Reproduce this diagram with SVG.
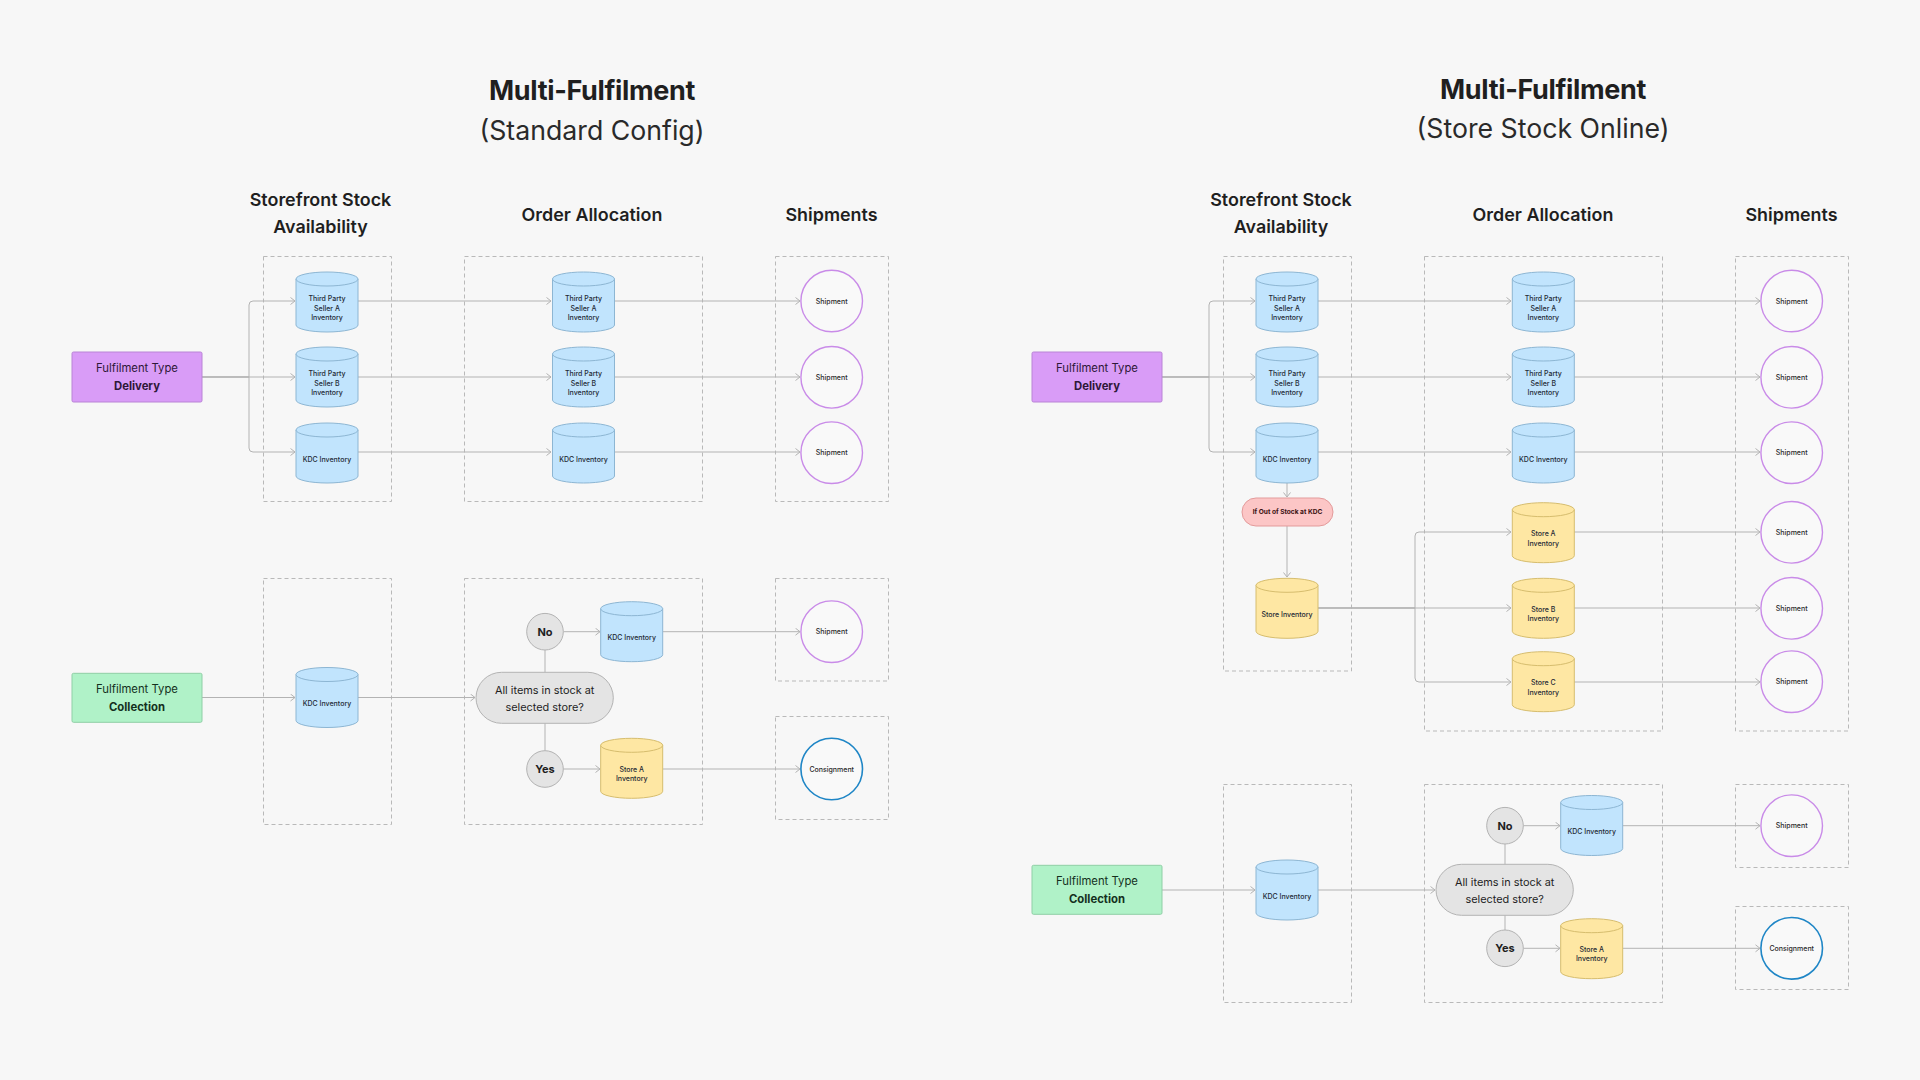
<svg xmlns="http://www.w3.org/2000/svg" xmlns:xlink="http://www.w3.org/1999/xlink" width="1920" height="1080" viewBox="0 0 1920 1080">
<style>
text{font-family:Inter,"Noto Sans","Liberation Sans",sans-serif;text-anchor:middle;fill:#1f1f1f}
.title{font-size:27px;font-weight:700;letter-spacing:-0.35px}
.sub{font-size:26.7px;font-weight:400;fill:#2a2a2a}
.hdr{font-size:17.9px;font-weight:600}
.frame{fill:none;stroke:#b9b9b9;stroke-width:1;stroke-dasharray:4 3}
.cyl-t{font-size:7px;font-weight:500;fill:#1e2a35}
.ship{fill:#f9f9f9;stroke:#c98be8;stroke-width:1.4}
.cons{fill:#f9f9f9;stroke:#1f86c6;stroke-width:1.6}
.circ-t{font-size:7px;font-weight:500;fill:#2a2a2a}
.ft{font-size:11.3px;font-weight:400}
.ftb{font-size:11.3px;font-weight:700}
.dec{fill:#e4e4e4;stroke:#b3b3b3;stroke-width:1}
.dec-t{font-size:10.9px;font-weight:400;fill:#1f1f1f}
.yn{font-size:11px;font-weight:700;fill:#1f1f1f}
.conn path{fill:none;stroke:#b3b3b3;stroke-width:1}
.arr path{marker-end:url(#ah)}
</style>
<defs>
<marker id="ah" markerUnits="userSpaceOnUse" markerWidth="8" markerHeight="10" refX="5" refY="4" orient="auto">
<path d="M0.5,0.5 L5,4 L0.5,7.5" fill="none" stroke="#b3b3b3" stroke-width="1"/>
</marker>
<g id="cylB">
<path d="M0,7 V53 A31,7 0 0 0 62,53 V7 Z" fill="#c1e4fd" stroke="#8db6d3" stroke-width="1"/>
<ellipse cx="31" cy="7" rx="31" ry="7" fill="#c1e4fd" stroke="#8db6d3" stroke-width="1"/>
</g>
<g id="cylY">
<path d="M0,7 V53 A31,7 0 0 0 62,53 V7 Z" fill="#fee7a3" stroke="#d6bd6e" stroke-width="1"/>
<ellipse cx="31" cy="7" rx="31" ry="7" fill="#fee7a3" stroke="#d6bd6e" stroke-width="1"/>
</g>
</defs>
<rect x="0" y="0" width="1920" height="1080" fill="#f7f7f7"/>

<!-- Titles -->
<g id="titles">
<text class="title" x="592" y="100">Multi-Fulfilment</text>
<text class="sub" x="592" y="139.5">(Standard Config)</text>
<text class="title" x="1543" y="98.5">Multi-Fulfilment</text>
<text class="sub" x="1543" y="138">(Store Stock Online)</text>
<text class="hdr" x="320.5" y="206">Storefront Stock</text>
<text class="hdr" x="320.5" y="233">Availability</text>
<text class="hdr" x="592" y="221">Order Allocation</text>
<text class="hdr" x="831.5" y="221">Shipments</text>
<text class="hdr" x="1281" y="206">Storefront Stock</text>
<text class="hdr" x="1281" y="233">Availability</text>
<text class="hdr" x="1543" y="221">Order Allocation</text>
<text class="hdr" x="1791.5" y="221">Shipments</text>
</g>

<!-- Frames -->
<g id="frames">
<rect class="frame" x="263.5" y="256.5" width="128" height="245"/>
<rect class="frame" x="464.5" y="256.5" width="238" height="245"/>
<rect class="frame" x="775.5" y="256.5" width="113" height="245"/>
<rect class="frame" x="263.5" y="578.5" width="128" height="246"/>
<rect class="frame" x="464.5" y="578.5" width="238" height="246"/>
<rect class="frame" x="775.5" y="578.5" width="113" height="102.5"/>
<rect class="frame" x="775.5" y="716.5" width="113" height="103"/>
<rect class="frame" x="1223.5" y="256.5" width="128" height="414.5"/>
<rect class="frame" x="1424.5" y="256.5" width="238" height="474.5"/>
<rect class="frame" x="1735.5" y="256.5" width="113" height="474.5"/>
<rect class="frame" x="1223.5" y="784.5" width="128" height="218"/>
<rect class="frame" x="1424.5" y="784.5" width="238" height="218"/>
<rect class="frame" x="1735.5" y="784.5" width="113" height="83"/>
<rect class="frame" x="1735.5" y="906.5" width="113" height="83"/>
</g>

<!-- Connectors -->
<g id="connectors" class="conn">
<g class="arr">
<path d="M202,377 H249 V305 Q249,301 253,301 H295"/>
<path d="M202,377 H295"/>
<path d="M202,377 H249 V448 Q249,452 253,452 H295"/>
<path d="M358,301 H551"/>
<path d="M358,377 H551"/>
<path d="M358,452 H551"/>
<path d="M614,301 H800"/>
<path d="M614,377 H800"/>
<path d="M614,452 H800"/>
<path d="M202,697.5 H295"/>
<path d="M358,697.5 H475"/>
<path d="M563.5,631.7 H600"/>
<path d="M563.5,769 H600"/>
<path d="M663,631.7 H800"/>
<path d="M663,769 H800"/>

<path d="M1162,377 H1209 V305 Q1209,301 1213,301 H1255"/>
<path d="M1162,377 H1255"/>
<path d="M1162,377 H1209 V448 Q1209,452 1213,452 H1255"/>
<path d="M1318,301 H1511"/>
<path d="M1318,377 H1511"/>
<path d="M1318,452 H1511"/>
<path d="M1574,301 H1760"/>
<path d="M1574,377 H1760"/>
<path d="M1574,452 H1760"/>
<path d="M1287,483 V497"/>
<path d="M1287,526 V577"/>
<path d="M1318,608 H1415 V536 Q1415,532 1419,532 H1511"/>
<path d="M1318,608 H1511"/>
<path d="M1318,608 H1415 V678 Q1415,682 1419,682 H1511"/>
<path d="M1574,532 H1760"/>
<path d="M1574,608 H1760"/>
<path d="M1574,682 H1760"/>
<path d="M1162,890 H1255"/>
<path d="M1318,890 H1435"/>
<path d="M1523.3,825.7 H1560"/>
<path d="M1523.3,948.3 H1560"/>
<path d="M1623,825.7 H1760"/>
<path d="M1623,948.3 H1760"/>
</g>
<path d="M545,672.3 V650"/>
<path d="M545,723.3 V750.7"/>
<path d="M1505,864.3 V844"/>
<path d="M1505,915.3 V930"/>
</g>

<!-- LEFT: Standard Config -->
<g id="L-delivery">
<rect x="72" y="352" width="130" height="50" rx="1.5" fill="#d99cf7" stroke="#b984d6" stroke-width="1"/>
<text class="ft" x="137" y="372.3" style="fill:#2e1738">Fulfilment Type</text>
<text class="ftb" x="137" y="389.7" style="fill:#2e1738">Delivery</text>
</g>
<g id="L-sf-tpa"><use xlink:href="#cylB" x="296" y="272"/>
<text class="cyl-t" x="327" y="301.3">Third Party</text><text class="cyl-t" x="327" y="310.6">Seller A</text><text class="cyl-t" x="327" y="319.9">Inventory</text></g>
<g id="L-sf-tpb"><use xlink:href="#cylB" x="296" y="347"/>
<text class="cyl-t" x="327" y="376.3">Third Party</text><text class="cyl-t" x="327" y="385.6">Seller B</text><text class="cyl-t" x="327" y="394.9">Inventory</text></g>
<g id="L-sf-kdc"><use xlink:href="#cylB" x="296" y="423"/>
<text class="cyl-t" x="327" y="461.5">KDC Inventory</text></g>
<g id="L-oa-tpa"><use xlink:href="#cylB" x="552.5" y="272"/>
<text class="cyl-t" x="583.5" y="301.3">Third Party</text><text class="cyl-t" x="583.5" y="310.6">Seller A</text><text class="cyl-t" x="583.5" y="319.9">Inventory</text></g>
<g id="L-oa-tpb"><use xlink:href="#cylB" x="552.5" y="347"/>
<text class="cyl-t" x="583.5" y="376.3">Third Party</text><text class="cyl-t" x="583.5" y="385.6">Seller B</text><text class="cyl-t" x="583.5" y="394.9">Inventory</text></g>
<g id="L-oa-kdc"><use xlink:href="#cylB" x="552.5" y="423"/>
<text class="cyl-t" x="583.5" y="461.5">KDC Inventory</text></g>
<g id="L-sh-1"><circle class="ship" cx="831.7" cy="301" r="30.8"/><text class="circ-t" x="831.7" y="303.5">Shipment</text></g>
<g id="L-sh-2"><circle class="ship" cx="831.7" cy="377.3" r="30.8"/><text class="circ-t" x="831.7" y="379.8">Shipment</text></g>
<g id="L-sh-3"><circle class="ship" cx="831.7" cy="452.7" r="30.8"/><text class="circ-t" x="831.7" y="455.2">Shipment</text></g>

<g id="L-collection">
<rect x="72" y="673.3" width="130" height="49" rx="1.5" fill="#b0f2c8" stroke="#8fcfa6" stroke-width="1"/>
<text class="ft" x="137" y="693.3" style="fill:#14301d">Fulfilment Type</text>
<text class="ftb" x="137" y="710.7" style="fill:#14301d">Collection</text>
</g>
<g id="L-sf-kdc2"><use xlink:href="#cylB" x="296" y="667.5"/>
<text class="cyl-t" x="327" y="706">KDC Inventory</text></g>
<g id="L-decision"><rect class="dec" x="476" y="672.3" width="137.3" height="51" rx="25.5"/>
<text class="dec-t" x="544.7" y="693.8">All items in stock at</text><text class="dec-t" x="544.7" y="710.5">selected store?</text></g>
<g id="L-no"><circle class="dec" cx="545" cy="631.7" r="18.3"/><text class="yn" x="545" y="635.7">No</text></g>
<g id="L-yes"><circle class="dec" cx="545" cy="769" r="18.3"/><text class="yn" x="545" y="773">Yes</text></g>
<g id="L-oa-kdc2"><use xlink:href="#cylB" x="600.7" y="601.7"/>
<text class="cyl-t" x="631.7" y="640.2">KDC Inventory</text></g>
<g id="L-oa-storea"><use xlink:href="#cylY" x="600.7" y="738.3"/>
<text class="cyl-t" x="631.7" y="771.5">Store A</text><text class="cyl-t" x="631.7" y="780.8">Inventory</text></g>
<g id="L-sh-4"><circle class="ship" cx="831.7" cy="631.7" r="30.8"/><text class="circ-t" x="831.7" y="634.2">Shipment</text></g>
<g id="L-cons"><circle class="cons" cx="831.7" cy="769" r="30.8"/><text class="circ-t" x="831.7" y="771.5">Consignment</text></g>

<!-- RIGHT: Store Stock Online -->
<g id="R-delivery">
<rect x="1032" y="352" width="130" height="50" rx="1.5" fill="#d99cf7" stroke="#b984d6" stroke-width="1"/>
<text class="ft" x="1097" y="372.3" style="fill:#2e1738">Fulfilment Type</text>
<text class="ftb" x="1097" y="389.7" style="fill:#2e1738">Delivery</text>
</g>
<g id="R-sf-tpa"><use xlink:href="#cylB" x="1256" y="272"/>
<text class="cyl-t" x="1287" y="301.3">Third Party</text><text class="cyl-t" x="1287" y="310.6">Seller A</text><text class="cyl-t" x="1287" y="319.9">Inventory</text></g>
<g id="R-sf-tpb"><use xlink:href="#cylB" x="1256" y="347"/>
<text class="cyl-t" x="1287" y="376.3">Third Party</text><text class="cyl-t" x="1287" y="385.6">Seller B</text><text class="cyl-t" x="1287" y="394.9">Inventory</text></g>
<g id="R-sf-kdc"><use xlink:href="#cylB" x="1256" y="423"/>
<text class="cyl-t" x="1287" y="461.5">KDC Inventory</text></g>
<g id="R-oos">
<rect x="1242" y="498" width="91" height="28" rx="14" fill="#fcc6c6" stroke="#e39b9b" stroke-width="1"/>
<text x="1287.5" y="514.4" style="font-size:6.6px;font-weight:700;fill:#3a1010">If Out of Stock at KDC</text>
</g>
<g id="R-sf-store"><use xlink:href="#cylY" x="1256" y="578.3"/>
<text class="cyl-t" x="1287" y="616.8">Store Inventory</text></g>
<g id="R-oa-tpa"><use xlink:href="#cylB" x="1512.3" y="272"/>
<text class="cyl-t" x="1543.3" y="301.3">Third Party</text><text class="cyl-t" x="1543.3" y="310.6">Seller A</text><text class="cyl-t" x="1543.3" y="319.9">Inventory</text></g>
<g id="R-oa-tpb"><use xlink:href="#cylB" x="1512.3" y="347"/>
<text class="cyl-t" x="1543.3" y="376.3">Third Party</text><text class="cyl-t" x="1543.3" y="385.6">Seller B</text><text class="cyl-t" x="1543.3" y="394.9">Inventory</text></g>
<g id="R-oa-kdc"><use xlink:href="#cylB" x="1512.3" y="423"/>
<text class="cyl-t" x="1543.3" y="461.5">KDC Inventory</text></g>
<g id="R-oa-storea"><use xlink:href="#cylY" x="1512.3" y="502.7"/>
<text class="cyl-t" x="1543.3" y="536.2">Store A</text><text class="cyl-t" x="1543.3" y="545.5">Inventory</text></g>
<g id="R-oa-storeb"><use xlink:href="#cylY" x="1512.3" y="578.3"/>
<text class="cyl-t" x="1543.3" y="611.8">Store B</text><text class="cyl-t" x="1543.3" y="621.1">Inventory</text></g>
<g id="R-oa-storec"><use xlink:href="#cylY" x="1512.3" y="651.7"/>
<text class="cyl-t" x="1543.3" y="685.2">Store C</text><text class="cyl-t" x="1543.3" y="694.5">Inventory</text></g>
<g id="R-sh-1"><circle class="ship" cx="1791.7" cy="301" r="30.8"/><text class="circ-t" x="1791.7" y="303.5">Shipment</text></g>
<g id="R-sh-2"><circle class="ship" cx="1791.7" cy="377.3" r="30.8"/><text class="circ-t" x="1791.7" y="379.8">Shipment</text></g>
<g id="R-sh-3"><circle class="ship" cx="1791.7" cy="452.7" r="30.8"/><text class="circ-t" x="1791.7" y="455.2">Shipment</text></g>
<g id="R-sh-4"><circle class="ship" cx="1791.7" cy="532.3" r="30.8"/><text class="circ-t" x="1791.7" y="534.8">Shipment</text></g>
<g id="R-sh-5"><circle class="ship" cx="1791.7" cy="608.3" r="30.8"/><text class="circ-t" x="1791.7" y="610.8">Shipment</text></g>
<g id="R-sh-6"><circle class="ship" cx="1791.7" cy="681.7" r="30.8"/><text class="circ-t" x="1791.7" y="684.2">Shipment</text></g>

<g id="R-collection">
<rect x="1032" y="865.3" width="130" height="49" rx="1.5" fill="#b0f2c8" stroke="#8fcfa6" stroke-width="1"/>
<text class="ft" x="1097" y="885.3" style="fill:#14301d">Fulfilment Type</text>
<text class="ftb" x="1097" y="902.7" style="fill:#14301d">Collection</text>
</g>
<g id="R-sf-kdc2"><use xlink:href="#cylB" x="1256" y="860"/>
<text class="cyl-t" x="1287" y="898.5">KDC Inventory</text></g>
<g id="R-decision"><rect class="dec" x="1436" y="864.3" width="137.3" height="51" rx="25.5"/>
<text class="dec-t" x="1504.7" y="885.8">All items in stock at</text><text class="dec-t" x="1504.7" y="902.5">selected store?</text></g>
<g id="R-no"><circle class="dec" cx="1505" cy="825.7" r="18.3"/><text class="yn" x="1505" y="829.7">No</text></g>
<g id="R-yes"><circle class="dec" cx="1505" cy="948.3" r="18.3"/><text class="yn" x="1505" y="952.3">Yes</text></g>
<g id="R-oa-kdc2"><use xlink:href="#cylB" x="1560.7" y="795.5"/>
<text class="cyl-t" x="1591.7" y="834">KDC Inventory</text></g>
<g id="R-oa-storea2"><use xlink:href="#cylY" x="1560.7" y="918.7"/>
<text class="cyl-t" x="1591.7" y="952">Store A</text><text class="cyl-t" x="1591.7" y="961.3">Inventory</text></g>
<g id="R-sh-7"><circle class="ship" cx="1791.7" cy="825.7" r="30.8"/><text class="circ-t" x="1791.7" y="828.2">Shipment</text></g>
<g id="R-cons"><circle class="cons" cx="1791.7" cy="948.3" r="30.8"/><text class="circ-t" x="1791.7" y="950.8">Consignment</text></g>
</svg>
